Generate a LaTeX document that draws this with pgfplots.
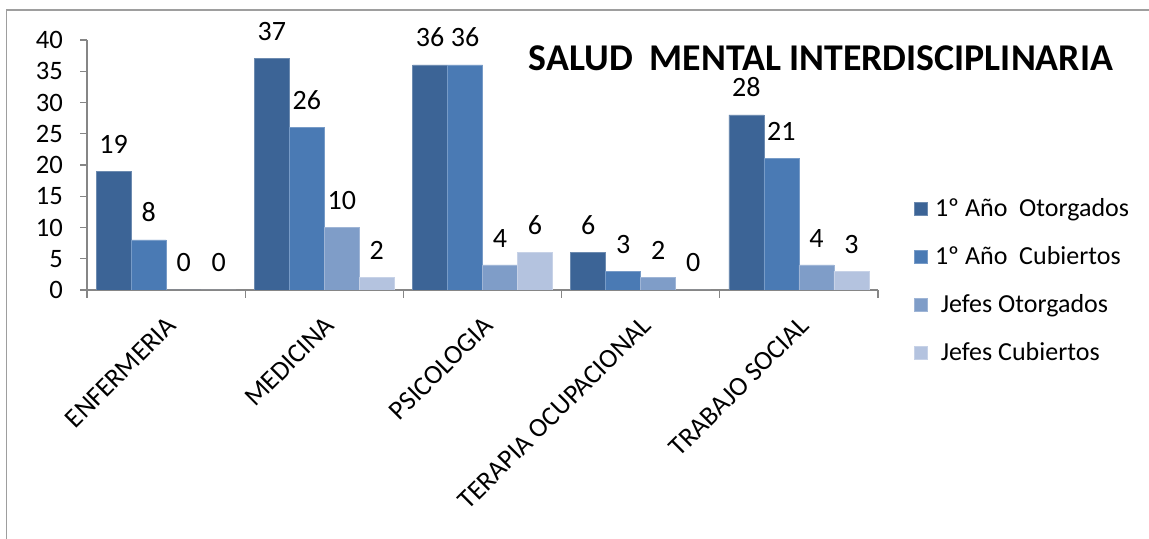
\documentclass[border=0pt]{standalone}
\usepackage{fontspec}
\setmainfont{Carlito}
\usepackage{pgfplots}
\pgfplotsset{compat=1.18}

\definecolor{serA}{HTML}{3C6496}
\definecolor{serB}{HTML}{4A7AB4}
\definecolor{serC}{HTML}{7F9DC8}
\definecolor{serD}{HTML}{B4C3DF}
\definecolor{axgray}{HTML}{868686}

\begin{document}
\begin{tikzpicture}[x=1pt,y=1pt]
\path[use as bounding box] (0,0) rectangle (574.5,269.5);
% outer chart frame (only top and left edges are visible)
\draw[axgray!80, line width=0.9pt] (3.25,-1) -- (3.25,264.5) -- (576,264.5);

\begin{axis}[
	at={(43.5pt,124.5pt)}, anchor=south west,
	scale only axis, width=395.5pt, height=125pt,
	xmin=-0.5, xmax=4.5, ymin=0, ymax=40,
	ybar=0pt, bar width=17.5pt,
	axis x line*=bottom, axis y line*=left,
	axis line style={draw=axgray, line width=0.6pt},
	tick align=outside,
	major tick length=3.5pt, minor tick length=4pt,
	ytick={0,5,...,40},
	xtick={0,...,4},
	minor xtick={-0.5,0.5,...,4.5},
	major x tick style={draw=none},
	minor x tick style={draw=axgray, line width=0.6pt},
	ytick style={draw=axgray, line width=0.6pt},
	xticklabels={ENFERMERIA, MEDICINA, PSICOLOGIA, TERAPIA OCUPACIONAL, TRABAJO SOCIAL},
	xticklabel style={font=\fontsize{13.5}{15}\selectfont, rotate=45, anchor=east, yshift=-10.5pt, xshift=-3pt},
	yticklabel style={font=\fontsize{13.3}{15}\selectfont, xshift=-5pt},
	/pgf/number format/assume math mode=true,
	nodes near coords,
	every node near coord/.append style={font=\fontsize{14}{16}\selectfont, anchor=south, yshift=5.5pt, text=black},
	legend cell align=left,
	legend style={at={(axis description cs:1.038,0.40)}, anchor=north west, draw=none, fill=none,
		font=\fontsize{13}{15}\selectfont, row sep=9.5pt},
	legend image code/.code={\fill[#1] (0pt,-3.25pt) rectangle (6.5pt,3.25pt);},
	/tikz/every odd column/.append style={column sep=0pt},
]
\addplot[fill=serA, draw=serA!75!white, line width=0.3pt] coordinates {(0,19) (1,37) (2,36) (3,6) (4,28)};
\addplot[fill=serB, draw=serB!75!white, line width=0.3pt] coordinates {(0,8) (1,26) (2,36) (3,3) (4,21)};
\addplot[fill=serC, draw=serC!75!white, line width=0.3pt] coordinates {(0,0) (1,10) (2,4) (3,2) (4,4)};
\addplot[fill=serD, draw=serD!75!white, line width=0.3pt] coordinates {(0,0) (1,2) (2,6) (3,0) (4,3)};
\legend{\hspace{1.5pt}1º Año~~Otorgados, \hspace{1.5pt}1º Año~~Cubiertos, \hspace{1.5pt}~Jefes Otorgados, \hspace{1.5pt}~Jefes Cubiertos}
\end{axis}

\node[font=\fontsize{18.9}{22}\selectfont\bfseries, anchor=center] at (410.5,240.5) {SALUD~~MENTAL INTERDISCIPLINARIA};
\end{tikzpicture}
\end{document}
